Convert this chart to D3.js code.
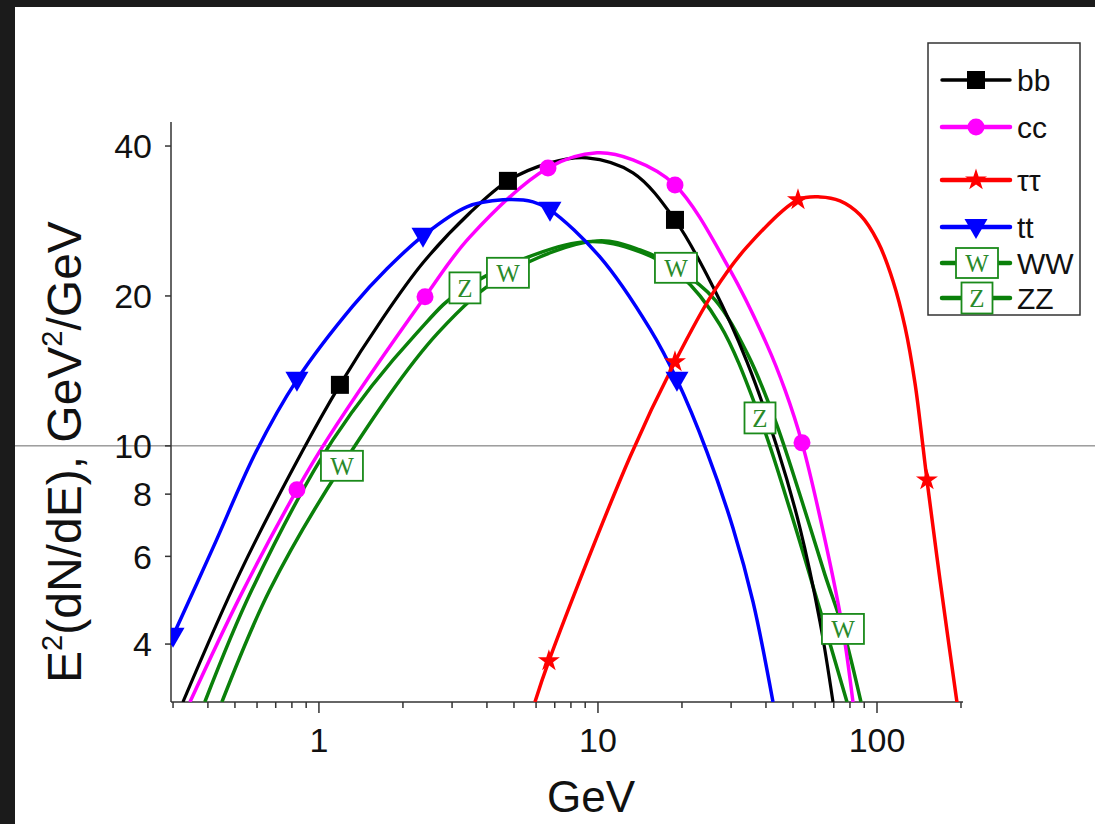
<!DOCTYPE html>
<html><head><meta charset="utf-8">
<script src="https://cdn.jsdelivr.net/npm/d3@7/dist/d3.min.js"></script>
<style>html,body{margin:0;padding:0;background:#1b1b1b;} svg{display:block}</style>
</head><body>
<svg id="c" width="1095" height="824"></svg>
<script>
// ---------- data (GeV, E^2 dN/dE) ----------
const bbData = [[0.3255,3.06],[0.521,5.56],[0.869,9.72],[1.189,13.26],[1.696,18.07],[2.36,23.31],[3.477,29.38],[4.757,34.05],[6.73,37.0],[9.13,37.87],[13.35,35.33],[18.88,28.43],[25.84,20.86],[34.2,14.75],[43.8,9.95],[52.97,6.84],[62.48,4.43],[69.55,3.06]];
const bbMarkers = [[1.189,13.26],[4.757,34.05],[18.88,28.43]];

const ccData = [[0.345,3.06],[0.521,4.975],[0.834,8.16],[1.068,10.28],[2.40,19.92],[3.477,26.28],[6.62,36.15],[9.92,38.76],[13.35,37.52],[18.88,33.42],[29.72,22.56],[40.34,15.95],[46.8,12.95],[53.86,10.14],[65.1,6.475],[75.5,4.27],[82.0,3.06]];
const ccMarkers = [[0.834,8.16],[2.40,19.92],[6.62,36.15],[18.88,33.42],[53.86,10.14]];

const tauData = [[5.945,3.06],[6.67,3.70],[13.02,9.5],[18.88,14.75],[25.84,20.29],[34.2,25.09],[52.1,31.19],[62.48,31.62],[73.7,31.04],[86.9,29.1],[100.8,25.68],[114.1,21.44],[126.0,17.34],[136.8,13.38],[146.2,9.95],[151.0,8.54],[168.2,5.38],[196,2.9]];
const tauMarkers = [[6.67,3.70],[18.88,14.75],[52.1,31.19],[151.0,8.54],[196,2.9]];

const ttData = [[0.3,4.155],[0.417,6.24],[0.5945,9.72],[0.834,13.57],[1.324,19.1],[1.753,22.67],[2.36,26.41],[3.39,30.2],[4.565,31.19],[5.85,30.9],[6.73,29.78],[10.16,23.96],[15.36,17.17],[19.19,13.57],[24.59,9.72],[30.47,6.84],[35.95,4.86],[42.39,3.06]];
const ttMarkers = [[0.3,4.155],[0.834,13.57],[2.36,26.41],[6.73,29.78],[19.19,13.57]];

const wwData = [[0.449,3.06],[0.667,5.14],[1.209,9.12],[2.67,16.86],[4.757,22.26],[9.92,25.8],[14.15,24.75],[19.03,22.78],[26.27,19.65],[34.48,15.23],[43.1,11.28],[52.97,7.97],[65.1,5.508],[75.5,4.29],[87.6,3.06]];
const wwMarkers = [[1.209,9.12],[4.757,22.26],[19.03,22.78],[75.5,4.29]];

const zzData = [[0.390,3.06],[0.575,5.14],[1.122,10.28],[2.245,16.86],[3.337,20.76],[8.84,25.68],[14.15,24.53],[19.68,22.05],[27.37,17.5],[38.08,11.38],[48.78,7.44],[62.48,4.685],[78.07,3.06]];
const zzMarkers = [[3.337,20.76],[38.08,11.38]];

const xMajorTicks = [1,10,100];
const xMinorTicks = [0.3,0.4,0.5,0.6,0.7,0.8,0.9,2,3,4,5,6,7,8,9,20,30,40,50,60,70,80,90,200];
const yTicks = [4,6,8,10,20,40];
const legendLabels = ["bb","cc","\u03C4\u03C4","tt","WW","ZZ"];

// ---------- setup ----------
const svg = d3.select("#c");
svg.append("rect").attr("x",0).attr("y",0).attr("width",1095).attr("height",824).attr("fill","#1b1b1b");
svg.append("rect").attr("x",15).attr("y",7).attr("width",1080).attr("height",817).attr("fill","#ffffff");

const x = d3.scaleLog().domain([0.295,200]).range([171,961]);
const y = d3.scaleLog().domain([3.06,44.7]).range([702,122]);
const FONT = "'Liberation Sans', Arial, sans-serif";

// reference line at 10
svg.append("line").attr("x1",15).attr("x2",1095).attr("y1",y(10)).attr("y2",y(10))
  .attr("stroke","#6a6a6a").attr("stroke-width",1);

// axes
const axisColor = "#333";
const gx = svg.append("g").attr("transform",`translate(0,702)`);
gx.append("line").attr("x1",171).attr("x2",963).attr("y1",0).attr("y2",0).attr("stroke",axisColor).attr("stroke-width",1.5);
gx.selectAll(".maj").data(xMajorTicks).join("line")
  .attr("x1",d=>x(d)).attr("x2",d=>x(d)).attr("y1",0).attr("y2",11).attr("stroke",axisColor).attr("stroke-width",1.5);
gx.selectAll(".min").data(xMinorTicks).join("line")
  .attr("x1",d=>x(d)).attr("x2",d=>x(d)).attr("y1",0).attr("y2",6).attr("stroke",axisColor).attr("stroke-width",1.5);
gx.selectAll(".lab").data(xMajorTicks).join("text")
  .attr("x",d=>x(d)).attr("y",50).attr("text-anchor","middle")
  .attr("font-family",FONT).attr("font-size",34).attr("fill","#111").text(d=>d);

const gy = svg.append("g");
gy.append("line").attr("x1",171).attr("x2",171).attr("y1",122).attr("y2",702).attr("stroke",axisColor).attr("stroke-width",1.5);
gy.selectAll(".t").data(yTicks).join("line")
  .attr("x1",165).attr("x2",171).attr("y1",d=>y(d)).attr("y2",d=>y(d)).attr("stroke",axisColor).attr("stroke-width",1.5);
gy.selectAll(".lab").data(yTicks).join("text")
  .attr("x",152).attr("y",d=>y(d)).attr("dy","0.36em").attr("text-anchor","end")
  .attr("font-family",FONT).attr("font-size",34).attr("fill","#111").text(d=>d);

// axis titles
svg.append("text").attr("x",591).attr("y",812).attr("text-anchor","middle")
  .attr("font-family",FONT).attr("font-size",44).attr("fill","#111").text("GeV");
const yt = svg.append("text").attr("transform","translate(81,452) rotate(-90)").attr("text-anchor","middle")
  .attr("font-family",FONT).attr("font-size",48).attr("fill","#111");
yt.append("tspan").text("E");
yt.append("tspan").attr("font-size",29).attr("dy",-19).text("2");
yt.append("tspan").attr("dy",19).text("(dN/dE), GeV");
yt.append("tspan").attr("font-size",29).attr("dy",-19).text("2");
yt.append("tspan").attr("dy",19).text("/GeV");

// clip
svg.append("clipPath").attr("id","plot").append("rect").attr("x",171).attr("y",122).attr("width",792).attr("height",580);
const plot = svg.append("g").attr("clip-path","url(#plot)");

const line = d3.line().x(d=>x(d[0])).y(d=>y(d[1])).curve(d3.curveCatmullRom.alpha(0.5));
const GREEN = "#0a800a";
const series = [
  {data:zzData, color:GREEN, w:3.5},
  {data:wwData, color:GREEN, w:3.5},
  {data:bbData, color:"#000000", w:3.2},
  {data:ccData, color:"#ff00ff", w:3.5},
  {data:ttData, color:"#0000ff", w:3.5},
  {data:tauData, color:"#ff0000", w:3.5}
];
series.forEach(s=>{
  plot.append("path").attr("d",line(s.data)).attr("fill","none").attr("stroke",s.color).attr("stroke-width",s.w);
});

// marker drawers
const triPath = "M-11.5,-8 L11.5,-8 L0,12 Z";
const starPath = d3.symbol(d3.symbolStar,150)();
function drawSquare(g,cx,cy){g.append("rect").attr("x",cx-9).attr("y",cy-9).attr("width",18).attr("height",18).attr("fill","#000");}
function drawCircle(g,cx,cy){g.append("circle").attr("cx",cx).attr("cy",cy).attr("r",8.5).attr("fill","#ff00ff");}
function drawStar(g,cx,cy){g.append("path").attr("d",starPath).attr("transform",`translate(${cx},${cy})`).attr("fill","#ff0000");}
function drawTri(g,cx,cy){g.append("path").attr("d",triPath).attr("transform",`translate(${cx},${cy})`).attr("fill","#0000ff");}
function drawBox(g,cx,cy,letter){
  const w = letter==="W"?42:31, h = letter==="W"?30:31;
  g.append("rect").attr("x",cx-w/2).attr("y",cy-h/2).attr("width",w).attr("height",h)
    .attr("fill","#fff").attr("stroke","#1a8a1a").attr("stroke-width",1.8);
  g.append("text").attr("x",cx).attr("y",cy).attr("dy","0.36em").attr("text-anchor","middle")
    .attr("font-family","'Liberation Serif','DejaVu Serif',serif").attr("font-size",25).attr("fill","#2a8a2a").text(letter);
}
const mk = plot.append("g");
bbMarkers.forEach(d=>drawSquare(mk,x(d[0]),y(d[1])));
ccMarkers.forEach(d=>drawCircle(mk,x(d[0]),y(d[1])));
tauMarkers.forEach(d=>drawStar(mk,x(d[0]),y(d[1])));
ttMarkers.forEach(d=>drawTri(mk,x(d[0]),y(d[1])));
zzMarkers.forEach(d=>drawBox(mk,x(d[0]),y(d[1]),"Z"));
wwMarkers.forEach(d=>drawBox(mk,x(d[0]),y(d[1]),"W"));

// legend
const lg = svg.append("g");
lg.append("rect").attr("x",928).attr("y",43).attr("width",152).attr("height",272).attr("fill","#fff").attr("stroke","#333").attr("stroke-width",1.5);
const legYs = [80,127,180,227,263,298];
const legColors = ["#000","#ff00ff","#ff0000","#0000ff",GREEN,GREEN];
legendLabels.forEach((lab,i)=>{
  const yy = legYs[i];
  lg.append("line").attr("x1",942).attr("x2",1010).attr("y1",yy).attr("y2",yy).attr("stroke",legColors[i]).attr("stroke-width",i===0?3.5:4.5).attr("stroke-linecap","round");
  if(i===0) drawSquare(lg,976,yy);
  if(i===1) drawCircle(lg,976,yy);
  if(i===2) drawStar(lg,976,yy);
  if(i===3) drawTri(lg,976,yy);
  if(i===4) drawBox(lg,977,yy,"W");
  if(i===5) drawBox(lg,977,yy,"Z");
  lg.append("text").attr("x",1017).attr("y",yy).attr("dy","0.36em").attr("font-family",FONT).attr("font-size",30).attr("fill","#111").text(lab);
});
</script>
</body></html>
